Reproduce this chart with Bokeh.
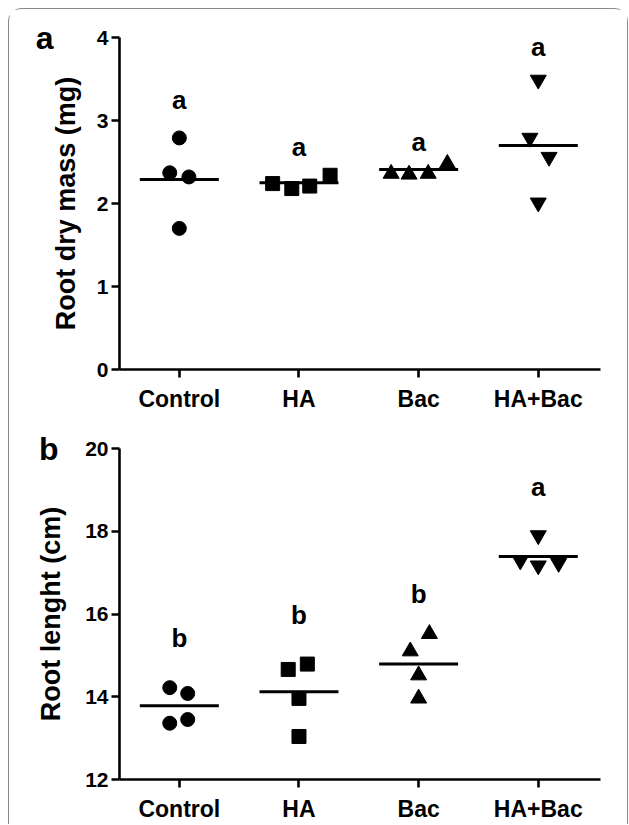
from bokeh.plotting import figure
from bokeh.layouts import column
from bokeh.models import FixedTicker, LinearAxis, Range1d
from bokeh.embed import file_html
from bokeh.resources import INLINE
from bokeh.core.properties import value

groups = ["Control", "HA", "Bac", "HA+Bac"]
markers = ["circle", "square", "triangle", "inverted_triangle"]

# Panel a: root dry mass (mg)
mass_control = [2.79, 2.37, 2.32, 1.70]
mass_ha = [2.24, 2.18, 2.21, 2.34]
mass_bac = [2.36, 2.35, 2.36, 2.48]
mass_habac = [3.49, 2.79, 2.56, 2.01]
mass_means = [2.29, 2.25, 2.41, 2.70]
mass_letters = ["a", "a", "a", "a"]
mass_letter_y = [3.25, 2.68, 2.74, 3.89]
mass_ticks = [0, 1, 2, 3, 4]

# Panel b: root length (cm)
len_control = [14.22, 14.08, 13.36, 13.45]
len_ha = [14.66, 14.79, 13.96, 13.04]
len_bac = [15.10, 15.52, 14.52, 13.96]
len_habac = [17.90, 17.29, 17.17, 17.23]
len_means = [13.78, 14.12, 14.79, 17.39]
len_letters = ["b", "b", "b", "a"]
len_letter_y = [15.42, 15.97, 16.49, 19.08]
len_ticks = [12, 14, 16, 18, 20]

# horizontal scatter of the points within each group (category units)
jitter_a = [[0, -0.08, 0.08, 0], [-0.22, -0.06, 0.09, 0.26],
            [-0.23, -0.08, 0.08, 0.24], [0, -0.07, 0.09, 0]]
jitter_b = [[-0.08, 0.07, -0.08, 0.07], [-0.09, 0.07, 0, 0],
            [-0.07, 0.09, 0, 0], [0, -0.15, 0, 0.17]]

FONT = "Liberation Sans"


def make_panel(series, means, letters, letter_y, jitter, ticks, yr, ylabel,
               width, height, left, right, top, bottom, panel, pl_standoff,
               label_standoff):
    p = figure(width=width, height=height, x_range=(0.5, 4.52), y_range=yr,
               output_backend="svg", toolbar_location=None,
               min_border_left=left, min_border_right=right,
               min_border_top=top, min_border_bottom=bottom)
    p.outline_line_color = None
    p.xgrid.visible = False
    p.ygrid.visible = False
    p.background_fill_color = "white"
    p.border_fill_color = "white"

    for i, vals in enumerate(series):
        xs = [i + 1 + j for j in jitter[i]]
        sz = 14 if markers[i] in ("circle", "square") else 16
        p.scatter(xs, vals, marker=markers[i], size=sz, fill_color="black",
                  line_color="black")
    xc = [i + 1 for i in range(len(groups))]
    p.segment(x0=[x - 0.33 for x in xc], x1=[x + 0.33 for x in xc],
              y0=means, y1=means, line_width=3, line_color="black")
    p.text(x=xc, y=letter_y, text=letters, text_font=value(FONT),
           text_font_style="bold", text_font_size="26px",
           text_align="center", text_baseline="middle", text_color="black")

    for ax in (p.xaxis[0], p.yaxis[0]):
        ax.axis_line_width = 2.6
        ax.axis_line_color = "black"
        ax.major_tick_line_width = 2.6
        ax.major_tick_line_color = "black"
        ax.major_tick_out = 8
        ax.major_tick_in = 0
        ax.minor_tick_line_color = None
        ax.major_label_text_font = FONT
        ax.major_label_text_font_style = "bold"
        ax.major_label_text_color = "black"

    p.xaxis.ticker = FixedTicker(ticks=[1, 2, 3, 4])
    p.xaxis.major_label_overrides = {i + 1: g for i, g in enumerate(groups)}
    p.xaxis.major_label_text_font_size = "23px"
    p.xaxis.major_label_standoff = 8

    p.yaxis.ticker = FixedTicker(ticks=ticks)
    p.yaxis.major_label_text_font_size = "21px"
    p.yaxis.major_label_standoff = 3
    p.yaxis.axis_label = ylabel
    p.yaxis.axis_label_text_font = FONT
    p.yaxis.axis_label_text_font_style = "bold"
    p.yaxis.axis_label_text_font_size = "27px"
    p.yaxis.axis_label_standoff = label_standoff
    p.yaxis.axis_label_text_color = "black"

    # panel letter, drawn as the only label of an extra, bare left axis
    p.extra_y_ranges = {"panel": Range1d(yr[0], yr[1])}
    pax = LinearAxis(y_range_name="panel", ticker=FixedTicker(ticks=[yr[1]]),
                     major_label_overrides={yr[1]: panel},
                     axis_line_color=None, major_tick_line_color=None,
                     minor_tick_line_color=None, major_tick_out=0,
                     major_tick_in=0, major_label_standoff=pl_standoff,
                     major_label_orientation="horizontal",
                     major_label_text_font=FONT,
                     major_label_text_font_style="bold",
                     major_label_text_font_size="32px",
                     major_label_text_color="black")
    p.add_layout(pax, "left")
    return p


pa = make_panel([mass_control, mass_ha, mass_bac, mass_habac], mass_means,
                mass_letters, mass_letter_y, jitter_a, mass_ticks, (0, 4),
                "Root dry mass (mg)", 618, 412, 110, 27, 28, 52, "a", -6, 13)
pb = make_panel([len_control, len_ha, len_bac, len_habac], len_means,
                len_letters, len_letter_y, jitter_b, len_ticks, (12, 20),
                "Root lenght (cm)", 618, 403, 107, 21, 27, 40, "b", -25, 16)

layout = column(pa, pb, margin=(8, 0, 0, 8),
                styles={"border-top": "1px solid #8a8a8a",
                        "border-left": "1px solid #8a8a8a",
                        "border-right": "1px solid #8a8a8a",
                        "border-radius": "14px 14px 0 0"})

open("out.html", "w").write(file_html(layout, INLINE))
